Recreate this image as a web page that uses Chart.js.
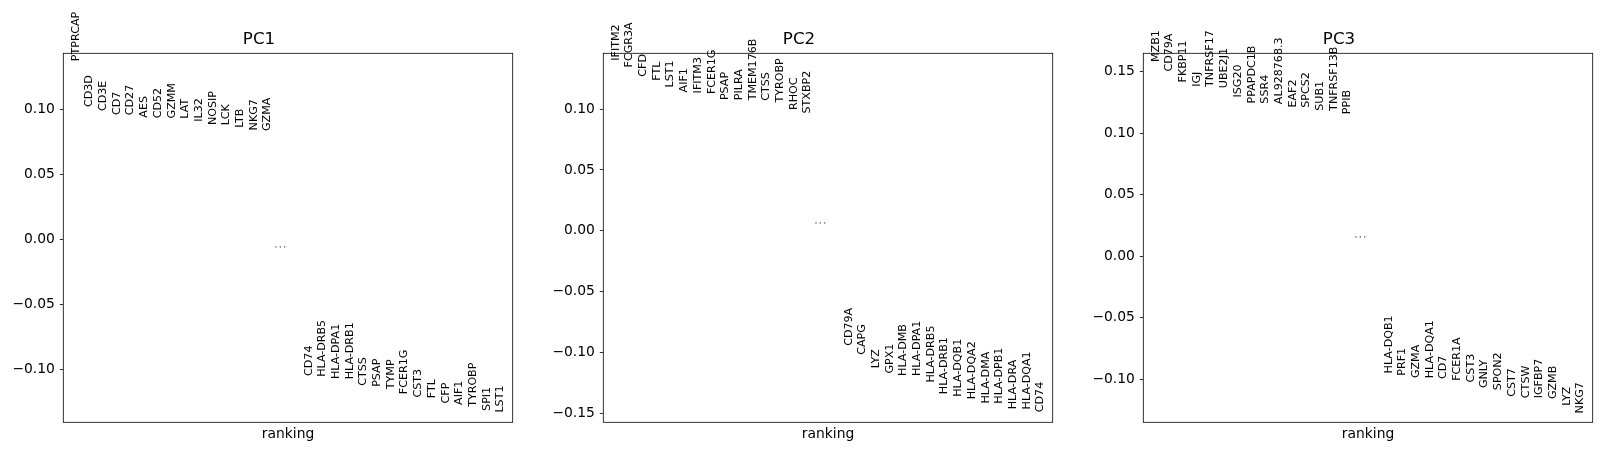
<!DOCTYPE html>
<html>
<head>
<meta charset="utf-8">
<title>PCA loadings</title>
<script src="https://cdn.jsdelivr.net/npm/chart.js@4.4.1/dist/chart.umd.min.js"></script>
<style>
  html, body { margin: 0; padding: 0; background: #fff; overflow: hidden; }
  #grade { position: relative; width: 1602px; height: 452px; }
  .painel { position: absolute; top: 0; width: 522px; height: 452px; }
</style>
</head>
<body>
<div id="grade">
  <div class="painel" style="left:0px"><canvas id="graficoPC1" width="522" height="452"></canvas></div>
  <div class="painel" style="left:540px"><canvas id="graficoPC2" width="522" height="452"></canvas></div>
  <div class="painel" style="left:1080px"><canvas id="graficoPC3" width="522" height="452"></canvas></div>
</div>
<script>
// 15 maiores e 15 menores cargas de cada componente
const pc1Genes = ['PTPRCAP', 'CD3D', 'CD3E', 'CD7', 'CD27', 'AES', 'CD52', 'GZMM', 'LAT', 'IL32', 'NOSIP', 'LCK', 'LTB', 'NKG7', 'GZMA',
  'CD74', 'HLA-DRB5', 'HLA-DPA1', 'HLA-DRB1', 'CTSS', 'PSAP', 'TYMP', 'FCER1G', 'CST3', 'FTL', 'CFP', 'AIF1', 'TYROBP', 'SPI1', 'LST1'];
const pc1Scores = [0.1364, 0.1011, 0.0980, 0.0949, 0.0948, 0.0929, 0.0924, 0.0923, 0.0921, 0.0898, 0.0872, 0.0870, 0.0852, 0.0831, 0.0826,
  -0.1059, -0.1066, -0.1083, -0.1085, -0.1135, -0.1143, -0.1161, -0.1199, -0.1225, -0.1230, -0.1271, -0.1282, -0.1297, -0.1328, -0.1341];

const pc2Genes = ['IFITM2', 'FCGR3A', 'CFD', 'FTL', 'LST1', 'AIF1', 'IFITM3', 'FCER1G', 'PSAP', 'PILRA', 'TMEM176B', 'CTSS', 'TYROBP', 'RHOC', 'STXBP2',
  'CD79A', 'CAPG', 'LYZ', 'GPX1', 'HLA-DMB', 'HLA-DPA1', 'HLA-DRB5', 'HLA-DRB1', 'HLA-DQB1', 'HLA-DQA2', 'HLA-DMA', 'HLA-DPB1', 'HLA-DRA', 'HLA-DQA1', 'CD74'];
const pc2Scores = [0.1389, 0.1334, 0.1258, 0.1225, 0.1170, 0.1129, 0.1121, 0.1115, 0.1066, 0.1065, 0.1064, 0.1060, 0.1046, 0.0984, 0.0956,
  -0.0953, -0.1027, -0.1137, -0.1181, -0.1200, -0.1201, -0.1255, -0.1350, -0.1372, -0.1392, -0.1427, -0.1428, -0.1474, -0.1475, -0.1498];

const pc3Genes = ['MZB1', 'CD79A', 'FKBP11', 'IGJ', 'TNFRSF17', 'UBE2J1', 'ISG20', 'PPAPDC1B', 'SSR4', 'AL928768.3', 'EAF2', 'SPCS2', 'SUB1', 'TNFRSF13B', 'PPIB',
  'HLA-DQB1', 'PRF1', 'GZMA', 'HLA-DQA1', 'CD7', 'FCER1A', 'CST3', 'GNLY', 'SPON2', 'CST7', 'CTSW', 'IGFBP7', 'GZMB', 'LYZ', 'NKG7'];
const pc3Scores = [0.1571, 0.1493, 0.1404, 0.1369, 0.1368, 0.1358, 0.1282, 0.1233, 0.1232, 0.1228, 0.1200, 0.1199, 0.1174, 0.1173, 0.1146,
  -0.0962, -0.0981, -0.1000, -0.1001, -0.1008, -0.1022, -0.1035, -0.1081, -0.1098, -0.1152, -0.1163, -0.1164, -0.1171, -0.1225, -0.1287];

const yTickStep = 0.05;
const nTopo = 15;

const FONTE = "'DejaVu Sans', 'Liberation Sans', sans-serif";

document.addEventListener('DOMContentLoaded', function() {
  criarGrafico('graficoPC1', 'PC1', pc1Genes, pc1Scores);
  criarGrafico('graficoPC2', 'PC2', pc2Genes, pc2Scores);
  criarGrafico('graficoPC3', 'PC3', pc3Genes, pc3Scores);
});

// posicao no ranking: os de cima em 0..14, reticencias em 15, os de baixo em 17..31
function montarPontos(genes, scores) {
  return scores.map(function(s, i) {
    return { x: i < nTopo ? i : i + 2, y: s, gene: genes[i] };
  });
}

const rotulosPlugin = {
  id: 'rotulosGenes',
  afterDatasetsDraw: function(chart) {
    const ctx = chart.ctx;
    const area = chart.chartArea;

    ctx.save();
    const meta = chart.getDatasetMeta(0);
    const pontos = chart.data.datasets[0].data;
    ctx.fillStyle = '#000';
    ctx.font = '11.1px ' + FONTE;
    ctx.textAlign = 'left';
    ctx.textBaseline = 'alphabetic';
    meta.data.forEach(function(el, i) {
      ctx.save();
      ctx.translate(el.x, el.y);
      ctx.rotate(-Math.PI / 2);
      ctx.fillText(pontos[i].gene, 1, 3);
      ctx.restore();
    });

    const metaMeio = chart.getDatasetMeta(1);
    metaMeio.data.forEach(function(el) {
      ctx.fillStyle = '#8a8a8a';
      ctx.font = '13px ' + FONTE;
      ctx.textAlign = 'center';
      ctx.textBaseline = 'middle';
      ctx.fillText('\u22EF', el.x - 1, el.y - 7);
    });

    // moldura dos eixos
    ctx.strokeStyle = '#000';
    ctx.lineWidth = 0.8;
    ctx.strokeRect(area.left, area.top, area.right - area.left, area.bottom - area.top);
    ctx.restore();
  }
};

function criarGrafico(idCanvas, titulo, genes, scores) {
  const pontos = montarPontos(genes, scores);
  const meio = (scores[nTopo - 1] + scores[nTopo]) / 2;
  const ymin = Math.min.apply(null, scores);
  const ymax = Math.max.apply(null, scores);

  const ctx = document.getElementById(idCanvas).getContext('2d');
  new Chart(ctx, {
    type: 'scatter',
    data: {
      datasets: [
        { data: pontos, pointRadius: 0, pointHoverRadius: 0, showLine: false },
        { data: [{ x: nTopo, y: meio }], pointRadius: 0, pointHoverRadius: 0, showLine: false }
      ]
    },
    options: getOpcoesPainel(titulo, (ymin > 0 ? 0.95 : 1.05) * ymin, (ymax > 0 ? 1.05 : 0.95) * ymax),
    plugins: [rotulosPlugin]
  });
}

function getOpcoesPainel(titulo, ymin, ymax) {
  return {
    responsive: false,
    animation: false,
    devicePixelRatio: 1,
    events: [],
    layout: {
      padding: { left: 5.3, right: 9.3, top: 30, bottom: 0 }
    },
    plugins: {
      legend: { display: false },
      tooltip: { enabled: false },
      title: {
        display: true,
        text: titulo,
        color: '#000',
        font: { family: FONTE, size: 16.67, weight: 'normal', lineHeight: 1.2 },
        padding: { top: 0, bottom: 3.3 }
      }
    },
    scales: {
      x: {
        type: 'linear',
        min: -0.9,
        max: nTopo * 2 + 1.9,
        border: { display: false },
        grid: { display: false },
        ticks: { display: false },
        title: {
          display: true,
          text: 'ranking',
          color: '#000',
          font: { family: FONTE, size: 13.89, lineHeight: 1.2 },
          padding: { top: 0, bottom: 9.3 }
        },
        afterFit: function(scale) { scale.height = 29.7; }
      },
      y: {
        type: 'linear',
        min: ymin,
        max: ymax,
        border: { display: false },
        grid: {
          drawOnChartArea: false,
          drawTicks: true,
          tickLength: 3.5,
          tickColor: '#000',
          tickWidth: 0.8
        },
        ticks: {
          stepSize: yTickStep,
          includeBounds: false,
          padding: 4.9,
          color: '#000',
          font: { family: FONTE, size: 13.89 },
          callback: function(value) {
            if (Math.abs(value) < 1e-9) return '0.00';
            return value.toFixed(2).replace('-', '\u2212');
          }
        },
        afterFit: function(scale) { scale.width = 58; }
      }
    }
  };
}
</script>
</body>
</html>
